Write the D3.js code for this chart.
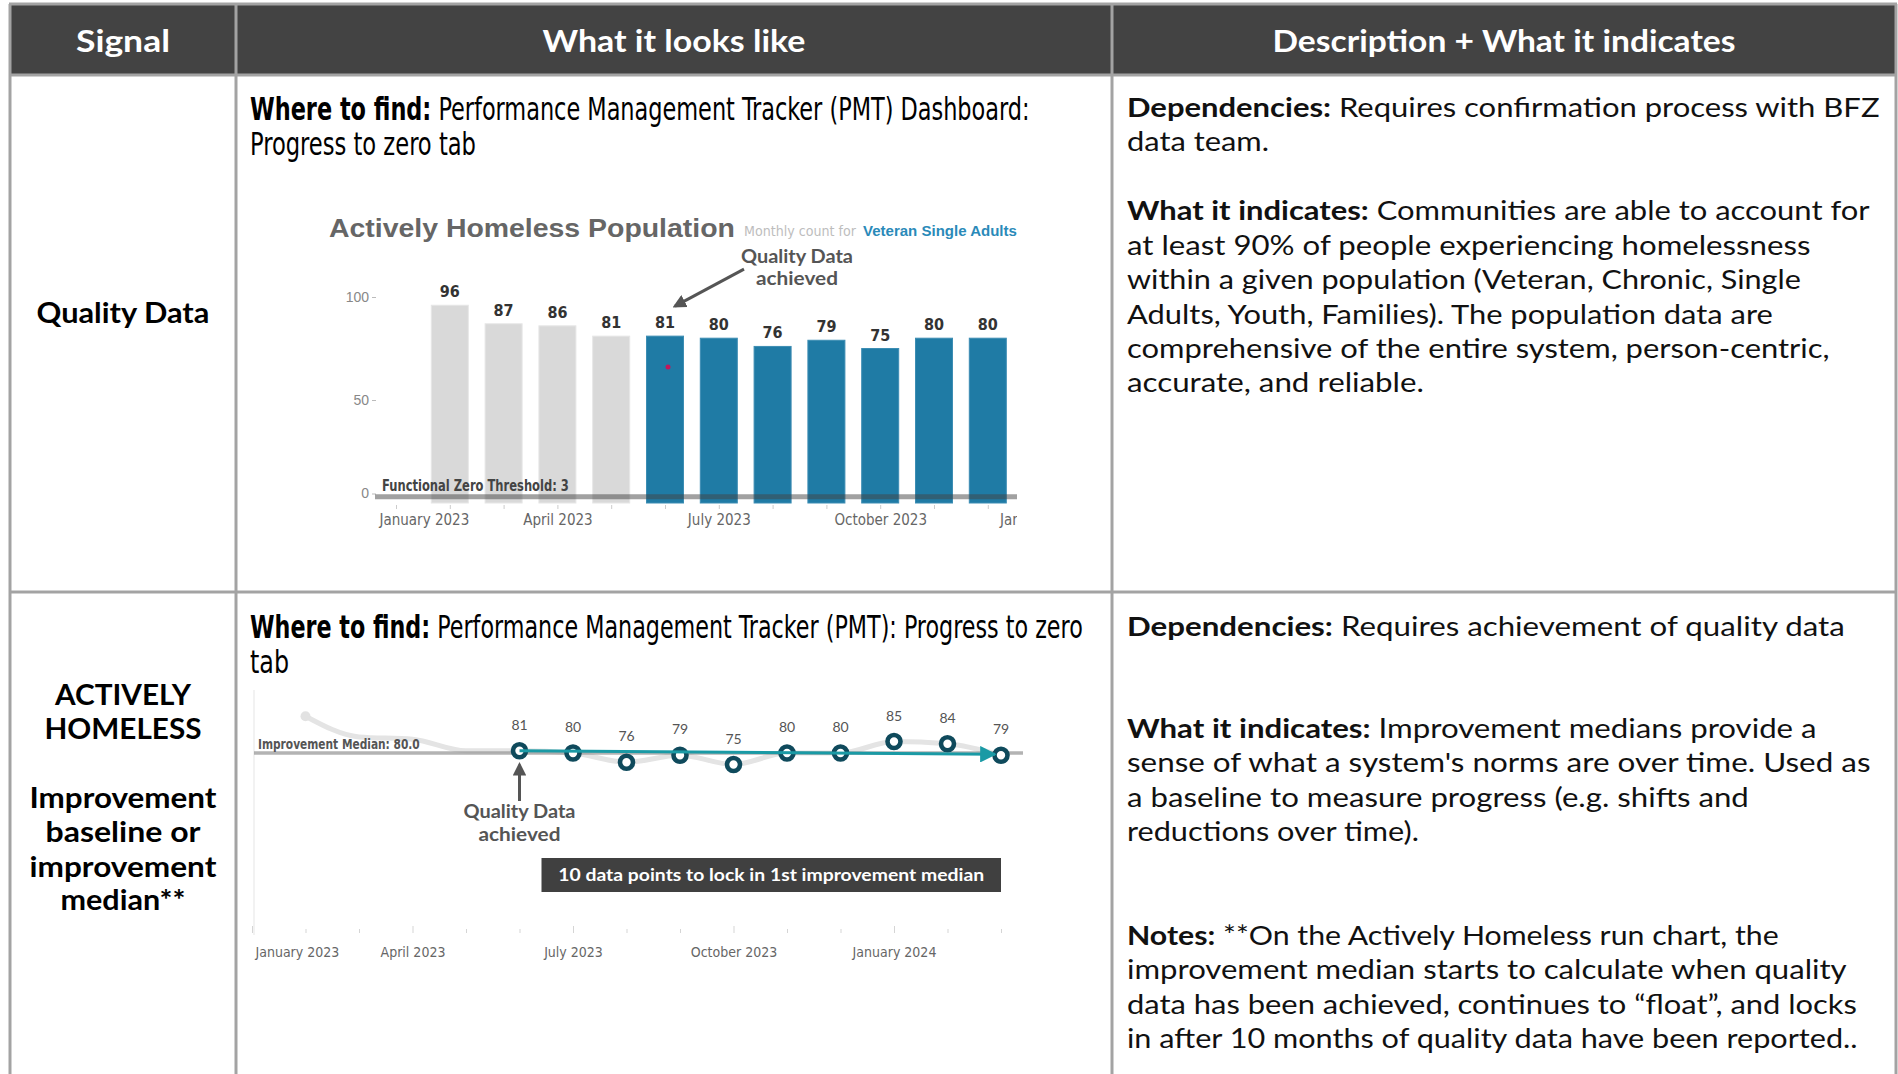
<!DOCTYPE html>
<html><head><meta charset="utf-8">
<script src="https://cdn.jsdelivr.net/npm/d3@7"></script>
<style>
html,body{margin:0;padding:0;background:#fff;}
svg{display:block;}
text{white-space:pre;}
</style></head><body>
<svg id="c" width="1898" height="1074"></svg>
<script>
// ================= DATA =================
const headerLabels = ["Signal", "What it looks like", "Description + What it indicates"];
const signal1Lines = ["Quality Data"];
const signal2Lines = ["ACTIVELY", "HOMELESS", "Improvement", "baseline or", "improvement", "median**"];
const where1Lines = [
  [["Where to find:", 1], [" Performance Management Tracker (PMT) Dashboard:", 0]],
  [["Progress to zero tab", 0]]
];
const where2Lines = [
  [["Where to find:", 1], [" Performance Management Tracker (PMT): Progress to zero", 0]],
  [["tab", 0]]
];
const desc1Lines = [
  [["Dependencies:", 1], [" Requires confirmation process with BFZ", 0]],
  [["data team.", 0]],
  [["What it indicates:", 1], [" Communities are able to account for", 0]],
  [["at least 90% of people experiencing homelessness", 0]],
  [["within a given population (Veteran, Chronic, Single", 0]],
  [["Adults, Youth, Families). The population data are", 0]],
  [["comprehensive of the entire system, person-centric,", 0]],
  [["accurate, and reliable.", 0]]
];
const desc2Lines = [
  [["Dependencies:", 1], [" Requires achievement of quality data", 0]],
  [["What it indicates:", 1], [" Improvement medians provide a", 0]],
  [["sense of what a system's norms are over time. Used as", 0]],
  [["a baseline to measure progress (e.g. shifts and", 0]],
  [["reductions over time).", 0]],
  [["Notes:", 1], [" **On the Actively Homeless run chart, the", 0]],
  [["improvement median starts to calculate when quality", 0]],
  [["data has been achieved, continues to \u201Cfloat\u201D, and locks", 0]],
  [["in after 10 months of quality data have been reported..", 0]]
];

// Chart 1: Actively Homeless Population (bars), month index 0 = January 2023
const barChartTitle = "Actively Homeless Population";
const barSubtitle = "Monthly count for";
const barPopulation = "Veteran Single Adults";
const barMonths = [1, 2, 3, 4, 5, 6, 7, 8, 9, 10, 11];
const barValues = [96, 87, 86, 81, 81, 80, 76, 79, 75, 80, 80];
const qualityStartMonth = 5;            // June 2023
const barYTicks = [0, 50, 100];
const thresholdValue = 3;
const axisTickMonths = [0, 3, 6, 9, 12];
const axisTickLabels = ["January 2023", "April 2023", "July 2023", "October 2023", "January 2024"];
const strayMarkMonths = [5];
const strayMarkValues = [66];
const annotationText = ["Quality Data", "achieved"];

// Chart 2: run chart
const runMonths = [1, 2, 3, 4, 5, 6, 7, 8, 9, 10, 11, 12, 13, 14];
const runValues = [96, 87, 86, 81, 81, 80, 76, 79, 75, 80, 80, 85, 84, 79];
const improvementMedian = 80.0;
const lockBoxText = "10 data points to lock in 1st improvement median";

// ================= HELPERS =================
const svg = d3.select("#c");
const SANS = "Lato, 'Open Sans', sans-serif";
const NARROW = "'Liberation Sans Narrow', 'DejaVu Sans Condensed', 'Liberation Sans', Arial, sans-serif";
const ARIAL = "'Liberation Sans', Arial, sans-serif";

function fitText(parent, parts, x, y, width, o) {
  const t = parent.append("text")
    .attr("font-family", o.family).attr("font-size", o.size)
    .attr("fill", o.fill || "#000");
  parts.forEach(p => t.append("tspan")
    .attr("font-weight", p[1] ? (o.bold || 700) : (o.weight || 400))
    .text(p[0]));
  const w = t.node().getComputedTextLength();
  const k = width ? width / w : 1;
  const ww = width || w;
  let sx = x;
  if (o.anchor === "middle") sx = x - ww / 2;
  if (o.anchor === "end") sx = x - ww;
  t.attr("transform", `translate(${sx},${y}) scale(${k},1)`);
  return t;
}

// ================= TABLE =================
const colX = [10, 236, 1112, 1896];
const table = svg.append("g");
table.append("rect").attr("x", colX[0]).attr("y", 5).attr("width", colX[3] - colX[0]).attr("height", 70).attr("fill", "#434343");
const lineCol = "#a3a3a3";
[4, 75, 592].forEach(y => table.append("line").attr("x1", colX[0] - 1).attr("x2", colX[3] + 1)
  .attr("y1", y).attr("y2", y).attr("stroke", lineCol).attr("stroke-width", 3));
colX.forEach(x => table.append("line").attr("x1", x).attr("x2", x).attr("y1", 4).attr("y2", 1074)
  .attr("stroke", lineCol).attr("stroke-width", 3));

// header
const headerCenters = [123, 674, 1504];
const headerWidths = [94, 263, 463];
headerLabels.forEach((h, i) => fitText(table, [[h, 1]], headerCenters[i], 52, headerWidths[i],
  { family: SANS, size: 30, fill: "#ffffff", bold: 700, anchor: "middle" }));

// column 1
fitText(table, [[signal1Lines[0], 1]], 123, 323, 173, { family: SANS, size: 28, anchor: "middle", bold: 700 });
const sig2Base = [705, 739, 808, 842, 877, 910];
const sig2W = [136, 157, 187, 155, 187, 125];
signal2Lines.forEach((s, i) => fitText(table, [[s, 1]], 123, sig2Base[i], sig2W[i],
  { family: SANS, size: 28, anchor: "middle", bold: 700 }));

// column 2 headings
const w1Base = [120, 155], w1W = [780, 226];
where1Lines.forEach((l, i) => fitText(table, l, 250, w1Base[i], w1W[i], { family: NARROW, size: 32 }));
const w2Base = [638, 673], w2W = [833, 39];
where2Lines.forEach((l, i) => fitText(table, l, 250, w2Base[i], w2W[i], { family: NARROW, size: 32 }));

// column 3 descriptions
const d1Base = [117, 151, 220, 255, 289, 324, 358, 392];
const d1W = [753, 142, 743, 684, 674, 646, 703, 297];
desc1Lines.forEach((l, i) => fitText(table, l, 1127, d1Base[i], d1W[i], { family: SANS, size: 27, fill: "#111" }));
const d2Base = [636, 738, 772, 807, 841, 945, 979, 1014, 1048];
const d2W = [718, 690, 744, 622, 292, 652, 720, 730, 731];
desc2Lines.forEach((l, i) => fitText(table, l, 1127, d2Base[i], d2W[i], { family: SANS, size: 27, fill: "#111" }));

// ================= CHART 1 =================
const c1 = svg.append("g");
const x1 = d3.scaleLinear().domain([0, 12]).range([396, 396 + 12 * 53.8]);
const y1 = d3.scaleLinear().domain([0, 100]).range([503, 297]);
const plot1Left = 377, plot1Right = 1017;

fitText(c1, [[barChartTitle, 1]], 329, 237, 406, { family: ARIAL, size: 26, fill: "#666666" });
fitText(c1, [[barSubtitle, 0]], 744, 236, 112, { family: NARROW, size: 14, fill: "#bdbdbd" });
fitText(c1, [[barPopulation, 1]], 863, 236, 154, { family: ARIAL, size: 14, fill: "#2a8ab9" });

// y axis
const yAx1 = c1.append("g").attr("transform", `translate(376,0)`)
  .call(d3.axisLeft(y1).tickValues(barYTicks).tickSize(4).tickPadding(3));
yAx1.select(".domain").remove();
yAx1.selectAll("line").attr("stroke", "#bbb");
yAx1.selectAll("text").attr("font-family", ARIAL).attr("font-size", 14).attr("fill", "#888");
yAx1.selectAll(".tick").filter(v => v === 0).attr("transform", `translate(0,${y1(0) - 9})`);

// x axis
const clip1 = svg.append("defs").append("clipPath").attr("id", "clip1")
  .append("rect").attr("x", 300).attr("y", 490).attr("width", plot1Right - 300).attr("height", 50);
const xAx1 = c1.append("g").attr("clip-path", "url(#clip1)").append("g").attr("transform", "translate(0,505)")
  .call(d3.axisBottom(x1).tickValues(d3.range(0, 13)).tickSize(4)
    .tickFormat(m => { const k = axisTickMonths.indexOf(m); return k >= 0 ? axisTickLabels[k] : ""; }));
xAx1.select(".domain").remove();
xAx1.selectAll("line").attr("stroke", "#ccc");
xAx1.selectAll("text").attr("font-family", NARROW).attr("font-size", 15).attr("fill", "#666").attr("y", 20).attr("dy", 0);
xAx1.selectAll(".tick").filter(m => m === 0).select("text")
  .attr("text-anchor", "start").attr("x", plot1Left + 2 - x1(0));
xAx1.selectAll(".tick").filter(m => m === 12).select("text")
  .attr("text-anchor", "start").attr("x", -42);

// bars
const barW = 37;
c1.selectAll("rect.bar").data(barMonths).join("rect").attr("class", "bar")
  .attr("x", (m) => x1(m) - barW / 2)
  .attr("y", (m, i) => y1(barValues[i]))
  .attr("width", barW)
  .attr("height", (m, i) => y1(0) - y1(barValues[i]))
  .attr("fill", m => m >= qualityStartMonth ? "#1f7ba5" : "#d9d9d9")
  .attr("stroke", m => m >= qualityStartMonth ? "#3c8db3" : "#e6e6e6")
  .attr("stroke-width", 1);

// threshold line
c1.append("line").attr("x1", plot1Left - 2).attr("x2", plot1Right)
  .attr("y1", y1(thresholdValue)).attr("y2", y1(thresholdValue))
  .attr("stroke", "#444").attr("stroke-opacity", 0.5).attr("stroke-width", 5);
fitText(c1, [["Functional Zero Threshold: " + thresholdValue, 1]], 382, 491, 187,
  { family: NARROW, size: 15, fill: "#444" });

// value labels
c1.selectAll("text.val").data(barMonths).join("text").attr("class", "val")
  .attr("x", m => x1(m)).attr("y", (m, i) => y1(barValues[i]) - 8)
  .attr("text-anchor", "middle").attr("font-family", NARROW).attr("font-weight", 700)
  .attr("font-size", 16).attr("fill", "#333")
  .text((m, i) => barValues[i]);

// stray mark
c1.selectAll("circle.stray").data(strayMarkMonths).join("circle").attr("class", "stray")
  .attr("cx", m => x1(m) + 3).attr("cy", (m, i) => y1(strayMarkValues[i])).attr("r", 2.5).attr("fill", "#c2185b");

// annotation arrow
const defs = svg.select("defs");
defs.append("marker").attr("id", "arrGray").attr("viewBox", "0 0 10 10").attr("refX", 8).attr("refY", 5)
  .attr("markerWidth", 4.5).attr("markerHeight", 4.5).attr("orient", "auto")
  .append("path").attr("d", "M0,0 L10,5 L0,10 z").attr("fill", "#555");
defs.append("marker").attr("id", "arrTeal").attr("viewBox", "0 0 10 10").attr("refX", 9).attr("refY", 5)
  .attr("markerWidth", 5.5).attr("markerHeight", 5.5).attr("orient", "auto")
  .append("path").attr("d", "M0,0 L10,5 L0,10 z").attr("fill", "#1a9aa5");

const qi = barMonths.indexOf(qualityStartMonth);
const tip1 = [x1(qualityStartMonth) + 10, y1(barValues[qi]) - 30];
c1.append("line").attr("x1", tip1[0] + 69).attr("y1", tip1[1] - 37).attr("x2", tip1[0]).attr("y2", tip1[1])
  .attr("stroke", "#555").attr("stroke-width", 3).attr("marker-end", "url(#arrGray)");
fitText(c1, [[annotationText[0], 1]], 797, 263, 112, { family: SANS, size: 18, fill: "#555", anchor: "middle" });
fitText(c1, [[annotationText[1], 1]], 797, 285, 82, { family: SANS, size: 18, fill: "#555", anchor: "middle" });

// ================= CHART 2 =================
const c2 = svg.append("g");
const x2 = d3.scaleLinear().domain([0, 14]).range([252, 1001]);
const y2 = d3.scaleLinear().domain([75, 85]).range([764.5, 741.5]);
const plot2Left = 255;

c2.append("line").attr("x1", 254).attr("x2", 254).attr("y1", 690).attr("y2", 935)
  .attr("stroke", "#eeeeee").attr("stroke-width", 1.5);

const xAx2 = c2.append("g").attr("transform", "translate(0,928)")
  .call(d3.axisBottom(x2).tickValues(d3.range(0, 15)).tickSize(5)
    .tickFormat(m => { const k = axisTickMonths.indexOf(m); return k >= 0 ? axisTickLabels[k] : ""; }));
xAx2.select(".domain").remove();
xAx2.selectAll(".tick line").attr("stroke", "#d5d5d5").attr("y1", m => axisTickMonths.includes(m) ? -2 : 1);
xAx2.selectAll("text").attr("font-family", NARROW).attr("font-size", 14).attr("fill", "#666").attr("y", 29).attr("dy", 0);
xAx2.selectAll(".tick").filter(m => m === 0).select("text")
  .attr("text-anchor", "start").attr("x", plot2Left - x2(0));

// faded history line
const faded = d3.line().x((m) => x2(m)).y((m, i) => y2(runValues[i])).curve(d3.curveMonotoneX);
c2.append("path").attr("d", faded(runMonths)).attr("fill", "none")
  .attr("stroke", "#e4e4e4").attr("stroke-width", 5).attr("stroke-linecap", "round");
c2.append("circle").attr("cx", x2(runMonths[0])).attr("cy", y2(runValues[0])).attr("r", 5).attr("fill", "#e2e2e2");

// improvement median line
c2.append("line").attr("x1", 254).attr("x2", 1023).attr("y1", y2(improvementMedian)).attr("y2", y2(improvementMedian))
  .attr("stroke", "#9a9a9a").attr("stroke-opacity", 0.75).attr("stroke-width", 3.5);
fitText(c2, [["Improvement Median: " + d3.format(".1f")(improvementMedian), 1]], 258, 749, 162,
  { family: NARROW, size: 14, fill: "#555" });

// points from quality start
const qMonths = runMonths.filter(m => m >= qualityStartMonth);
const qVals = runValues.filter((v, i) => runMonths[i] >= qualityStartMonth);
c2.selectAll("circle.pt").data(qMonths).join("circle").attr("class", "pt")
  .attr("cx", m => x2(m)).attr("cy", (m, i) => y2(qVals[i])).attr("r", 6.5)
  .attr("fill", "#fff").attr("stroke", "#0f4a5c").attr("stroke-width", 4.6);

// teal arrow across points
const last = qMonths.length - 1;
c2.append("line")
  .attr("x1", x2(qMonths[0])).attr("y1", y2(qVals[0]))
  .attr("x2", x2(qMonths[last]) - 6).attr("y2", y2(qVals[last]) - 1)
  .attr("stroke", "#1a9aa5").attr("stroke-width", 3).attr("marker-end", "url(#arrTeal)");

c2.selectAll("text.pv").data(qMonths).join("text").attr("class", "pv")
  .attr("x", m => x2(m)).attr("y", (m, i) => y2(qVals[i]) - 21)
  .attr("text-anchor", "middle").attr("font-family", SANS).attr("font-size", 14)
  .attr("fill", "#555").text((m, i) => qVals[i]);

// annotation 2
const ax = x2(qualityStartMonth);
c2.append("line").attr("x1", ax).attr("x2", ax).attr("y1", 801).attr("y2", y2(qVals[0]) + 14)
  .attr("stroke", "#555").attr("stroke-width", 3).attr("marker-end", "url(#arrGray)");
fitText(c2, [[annotationText[0], 1]], ax, 818, 112, { family: SANS, size: 18, fill: "#555", anchor: "middle" });
fitText(c2, [[annotationText[1], 1]], ax, 841, 82, { family: SANS, size: 18, fill: "#555", anchor: "middle" });

// lock-in box
c2.append("rect").attr("x", ax + 22).attr("y", 858).attr("width", x2(qMonths[last]) - ax - 22).attr("height", 34)
  .attr("fill", "#404040");
fitText(c2, [[lockBoxText, 1]], (ax + 22 + x2(qMonths[last])) / 2, 881, 426,
  { family: SANS, size: 17, fill: "#fff", anchor: "middle" });
</script>
</body></html>
